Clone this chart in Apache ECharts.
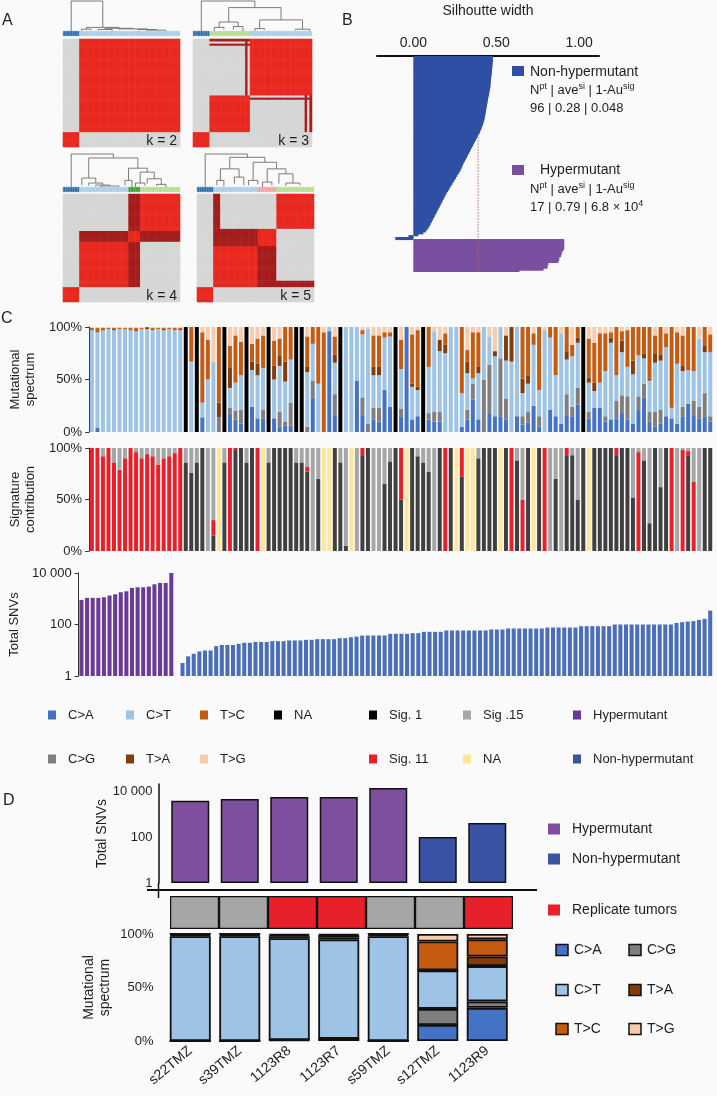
<!DOCTYPE html>
<html><head><meta charset="utf-8">
<script src="https://cdn.jsdelivr.net/npm/echarts@6.0.0/dist/echarts.min.js"></script>
<style>html,body{margin:0;padding:0;background:#fafafa;}#chart{width:717px;height:1096px;}</style>
</head><body><div id="chart"></div>
<script>
// ================= DATA =================
// ---- Panel A: consensus clustering, 50 ordered samples per k ----
const k2Sizes = [7, 43];
const k3Sizes = [7, 17, 26];
const k4Sizes = [7, 21, 5, 17];
const k5Sizes = [7, 19, 8, 16];
const k2Colors = ['#2e6ea6', '#a9cde6'];
const k3Colors = ['#2e6ea6', '#b5dc8e', '#a9cde6'];
const k4Colors = ['#2e6ea6', '#a9cde6', '#3d9a36', '#b5dc8e'];
const k5Colors = ['#2e6ea6', '#a9cde6', '#f2a29c', '#b5dc8e'];
// ambiguous samples: [from, to, clusters they partly co-cluster with]
const k2Amb = [];
const k3Amb = [[22, 23, [2]], [47, 48, [1]], [49, 50, [1]]];
const k4Amb = [[28, 33, [1, 3]]];
const k5Amb = [[7, 10, [3]], [26, 34, [1]]];
// dendrogram joins: [xLeft, xRight, height, leftChildHeight, rightChildHeight]
const k2Links = [[3.5,17,1,0,0.12],[10,24,0.12,0.06,0.09],[8,12,0.06,0,0.03],[18,30,0.09,0.05,0.07],[15,21,0.05,0.02,0],[24,36,0.07,0.04,0.05],[32,40,0.05,0.02,0.03],[36,44,0.03,0,0.01]];
const k3Links = [[3.5,26,1,0,0.78],[15,37,0.78,0.3,0.37],[11,19,0.3,0.12,0.15],[9,13,0.12,0,0.05],[17,21,0.15,0.05,0],[28,46,0.37,0.08,0.06],[26,30,0.08,0,0.04],[43,49,0.06,0.02,0]];
const k4Links = [[3.5,21.5,1,0,0.88],[11,32,0.88,0.27,0.57],[8,14,0.27,0.05,0.12],[11,17,0.12,0.04,0.06],[14,20,0.06,0.02,0.03],[16,24,0.03,0,0.01],[28,36,0.57,0.2,0.45],[26.5,29.5,0.2,0.05,0],[33,39,0.45,0.12,0.25],[31,35,0.12,0,0.04],[36,42,0.25,0.1,0.08],[40,44,0.08,0.03,0]];
const k5Links = [[3.5,21.5,1,0,0.9],[14,29,0.9,0.55,0.75],[10,18,0.55,0.2,0.3],[8.5,11.5,0.2,0.05,0.02],[16,20,0.3,0.1,0.05],[24,34,0.75,0.2,0.55],[22,26,0.2,0.05,0.08],[30,38,0.55,0.15,0.4],[28,32,0.15,0,0.05],[35,41,0.4,0.1,0.12],[38,44,0.12,0.03,0.05]];
const kLabels = ['k = 2', 'k = 3', 'k = 4', 'k = 5'];

// ---- Panel B: silhouette widths ----
const silNonHyper = [0.48,0.48,0.48,0.478,0.477,0.476,0.475,0.474,0.473,0.472,
 0.47,0.469,0.468,0.467,0.466,0.465,0.463,0.461,0.459,0.457,
 0.455,0.452,0.45,0.448,0.446,0.444,0.442,0.44,0.438,0.436,
 0.434,0.432,0.43,0.427,0.424,0.42,0.416,0.412,0.407,0.402,
 0.397,0.39,0.384,0.378,0.372,0.366,0.36,0.354,0.348,0.342,
 0.336,0.33,0.324,0.318,0.312,0.306,0.30,0.295,0.29,0.285,
 0.278,0.271,0.264,0.257,0.25,0.243,0.236,0.229,0.222,0.215,
 0.208,0.201,0.195,0.189,0.183,0.177,0.171,0.165,0.159,0.153,
 0.147,0.141,0.135,0.129,0.123,0.117,0.111,0.105,0.099,0.092,
 0.085,0.075,0.06,0.03,-0.03,-0.11];
const silHyper = [0.91,0.91,0.91,0.91,0.91,0.905,0.895,0.895,0.89,0.88,0.88,0.875,0.815,0.81,0.81,0.785,0.64];
const silAvgLine = 0.39;
const silTicks = [0, 0.5, 1];

// ---- Panel C: mutational spectrum [C>A, C>G, C>T, T>A, T>C, T>G]; null = NA ----
const specKeys = ['C>A', 'C>G', 'C>T', 'T>A', 'T>C', 'T>G'];
const specHyper = [[0,0,97,0,2,1],[4,0,91,1,3,1],[0,0,97,1,1,1],[0,0,98,0,1,1],[0,0,97,1,1,1],[0,0,98,0,1,1],[0,0,98,0,1,1],[0,0,97,0,2,1],[0,0,96,1,2,1],[0,0,98,0,1,1],[0,0,98,1,1,0],[0,0,97,0,2,1],[0,0,98,0,1,1],[0,0,97,1,1,1],[0,0,98,0,1,1],[0,0,97,0,2,1],[0,0,97,1,1,1]];
const specNonHyper = [null,[0,0,67,0,33,0],null,[14,0,14,0,67,5],[0,0,50,0,38,12],[0,0,67,0,0,33],[0,14,0,14,72,0],null,[17,6,19,19,21,18],[12,8,27,0,45,8],
 [8,13,33,0,32,14],null,[24,0,35,8,17,16],[13,0,41,11,24,11],[13,8,40,0,31,8],null,[13,0,37,13,24,13],[5,14,44,10,16,11],[6,4,38,19,33,0],[6,22,41,0,31,0],
 null,null,[0,5,52,5,29,9],[33,16,35,0,16,0],[0,0,46,0,54,0],[0,0,0,0,95,5],[96,0,4,0,0,0],[16,20,30,8,17,9],null,[0,0,100,0,0,0],
 [0,0,100,0,0,0],[49,0,51,0,0,0],[16,17,60,0,4,3],[0,8,90,0,0,2],
 [12,11,31,8,30,8],[10,13,31,8,30,8],[40,0,50,0,5,5],[24,0,67,0,4,5],null,[15,7,38,0,28,12],[100,0,0,0,0,0],[12,0,31,3,47,7],[15,0,25,3,54,3],null,
 [12,6,44,0,38,0],[10,9,77,0,0,4],[10,9,58,11,0,12],[0,0,75,8,11,6],[0,0,100,0,0,0],[0,0,100,0,0,0],[5,0,32,0,63,0],[12,9,35,11,11,22],[31,15,5,0,44,5],[12,0,44,6,33,5],
 [0,50,50,0,0,0],[18,46,27,0,0,9],[15,0,57,5,0,23],[15,55,30,0,0,0],[12,20,36,24,0,8],[0,0,67,33,0,0],[15,0,85,0,0,0],[7,8,22,14,49,0],[9,10,27,8,46,0],[25,0,58,0,11,6],
 [5,10,25,0,60,0],[0,0,97,0,0,3],[21,0,69,0,10,0],[15,0,39,0,46,0],[8,0,86,0,0,6],[16,20,33,8,23,0],[15,9,48,0,11,17],[26,16,43,5,10,0],null,[13,6,28,5,37,11],
 [23,0,16,8,38,15],[23,0,24,0,47,6],[10,5,43,0,36,6],[12,0,73,5,5,5],[13,17,24,0,46,0],[18,17,41,11,9,4],[12,22,28,0,35,3],[8,0,47,13,32,0],[21,13,39,0,27,0],[33,13,24,5,25,0],
 [10,9,30,2,49,0],[5,14,47,9,17,8],[8,13,47,6,26,0],[15,0,66,0,13,6],[13,0,10,0,77,0],[8,0,57,0,30,5],[15,9,34,5,29,8],[27,0,32,0,41,0],[16,14,28,0,42,0],[13,11,65,0,0,11],
 [15,22,39,6,18,0],[10,5,61,0,17,7]];
// signature contribution [Sig.1, Sig.11, Sig.15]; null = NA
const sigKeys = ['Sig. 1', 'Sig. 11', 'Sig .15'];
const sig11Hyper = [100,100,92,100,86,79,90,100,96,90,94,92,84,90,92,95,100];
const sigNonHyper = [[86,0,14],[76,0,24],[86,0,14],[100,0,0],[0,0,100],[15,15,70],null,[86,0,14],[0,100,0],[98,2,0],
 [100,0,0],[86,0,14],[100,0,0],[0,100,0],null,[86,0,14],[100,0,0],[100,0,0],[100,0,0],[100,0,0],
 [86,0,14],[86,0,14],[77,5,18],[0,0,100],[70,0,30],null,null,[100,0,0],[86,0,14],[5,0,95],
 null,[0,0,100],[93,7,0],[100,0,0],
 [0,0,100],[0,0,100],[65,0,35],[87,0,13],[100,0,0],[50,50,0],null,[100,0,0],[92,0,8],[86,0,14],
 [77,0,23],[0,0,100],[100,0,0],[0,100,0],[100,0,0],null,[72,28,0],null,null,[90,0,10],
 [100,0,0],[100,0,0],[100,0,0],null,[100,0,0],[0,100,0],[88,0,12],[0,50,50],[100,0,0],null,
 [100,0,0],[0,100,0],[0,0,100],[70,0,30],[0,0,100],[93,7,0],[93,0,7],[50,0,50],[100,0,0],null,
 [100,0,0],[100,0,0],[100,0,0],[100,0,0],[93,7,0],[100,0,0],[100,0,0],[52,0,48],[0,96,4],[88,0,12],
 [27,0,73],[100,0,0],[62,0,38],[100,0,0],[0,100,0],[0,0,100],[0,98,2],[93,4,3],[0,67,33],[0,0,100],
 [100,0,0],[100,0,0]];
// total SNVs
const snvHyper = [900,1080,1080,1080,1140,1330,1490,1790,1950,2630,2790,2790,2960,3640,4100,4100,10000];
const snvNonHyper = [1,3.2,5.8,7.3,9,9.8,9.8,14.5,16,16,16,17.8,19.5,19.5,21,21,21,22.6,22.6,22.6,24,24,24,25.4,25.4,27,27,27,27,29.5,29.5,32,34,37,
 37.5,37.5,37.5,37.5,43.5,43.5,43.5,43.5,46,46,52,52,52,52,58.6,58.6,58.6,58.6,58.6,58.6,58.6,58.6,64,64,64,
 70,70,70,70,70,70,70,76.5,76.5,76.5,76.5,76.5,76.5,86,86,86,86,86,86,
 100,100,100,100,100,100,100,100,100,100,100,115,123,130,135,150,166,348];
const snvTicks = ['1', '100', '10 000'];

// ---- Panel D ----
const dSamples = ['s22TMZ', 's39TMZ', '1123R8', '1123R7', 's59TMZ', 's12TMZ', '1123R9'];
const dHyper = [true, true, true, true, true, false, false];
const dSnv = [3700, 4500, 5500, 5500, 13500, 100, 400];
const dReplicate = [false, false, true, true, false, false, true];
const dSpectrum = [[0,0,98,1,1,0],[0,0,98,1,1,0],[1,0,95,2,1,1],[2,0,93,2,2,1],[0,0,98,1,1,0],[15,15,36,0,27,7],[31,6,33,9,16,5]];

// ================= STYLE =================
const FONT = 'Liberation Sans, Arial, Helvetica, sans-serif';
const TXT = '#1e1e1e';
const specColors = ['#4472c4', '#7f7f7f', '#9dc3e6', '#843c0c', '#c55a11', '#f8cbad'];
const naColor = '#000000';
const sigColors = ['#404040', '#e8202a', '#a6a6a6'];
const sigNaColor = '#ffe699';
const hyperColor = '#6b3a97', nonHyperColor = '#4a6fb8';
const silBlue = '#2f4fa4', silPurple = '#7b4f9f';
const dHyperColor = '#7d4f9e', dNonHyperColor = '#3a53a4';

const grids = [], xAxis = [], yAxis = [], series = [], graphic = [];
function addGrid(box, xa, ya) {
  const i = grids.length;
  grids.push(box); xa.gridIndex = i; ya.gridIndex = i; xAxis.push(xa); yAxis.push(ya);
  return i;
}
const heatIdx = [];

// ================= PANEL A =================
function consensusPanel(p) {
  const labels = [];
  p.sizes.forEach((s, c) => { for (let n = 0; n < s; n++) labels.push(c); });
  const N = labels.length;
  const ambOf = labels.map(() => []);
  p.amb.forEach(([a, b, cl]) => { for (let n = a; n < b; n++) ambOf[n] = cl; });
  const idx = labels.map((_, i) => i);
  const gd = addGrid({left: p.left, top: p.top, width: p.width, height: p.dendroH},
    {type: 'value', min: 0, max: N, show: false}, {type: 'value', min: 0, max: 1, show: false});
  series.push({type: 'custom', xAxisIndex: gd, yAxisIndex: gd, silent: true, clip: false,
    encode: {x: [0, 1], y: [2, 3, 4]}, data: p.links,
    renderItem: (params, api) => {
      const xl = api.value(0), xr = api.value(1), h = api.value(2), hl = api.value(3), hr = api.value(4);
      return {type: 'polyline', shape: {points: [api.coord([xl, hl]), api.coord([xl, h]), api.coord([xr, h]), api.coord([xr, hr])]},
        style: {stroke: '#6d6d6d', fill: null, lineWidth: 0.9}};
    }});
  const gb = addGrid({left: p.left, top: p.top + p.dendroH, width: p.width, height: p.barH},
    {type: 'category', data: idx, show: false}, {type: 'value', min: 0, max: 1, show: false});
  series.push({type: 'bar', xAxisIndex: gb, yAxisIndex: gb, silent: true, barCategoryGap: '0%',
    data: labels.map(c => ({value: 1, itemStyle: {color: p.colors[c], borderColor: p.colors[c], borderWidth: 0.4}}))});
  const gh = addGrid({left: p.left, top: p.hTop, width: p.width, height: p.hH},
    {type: 'category', data: idx, show: false}, {type: 'category', data: idx, show: false});
  const cells = [];
  for (let i = 0; i < N; i++) for (let j = 0; j < N; j++) {
    let v = 0;
    if (labels[i] === labels[j]) v = 1;
    else if (ambOf[i].includes(labels[j]) || ambOf[j].includes(labels[i])) v = 0.55;
    cells.push([j, i, v]);
  }
  series.push({type: 'heatmap', xAxisIndex: gh, yAxisIndex: gh, silent: true, data: cells, progressive: 0});
  heatIdx.push(series.length - 1);
  graphic.push({type: 'text', x: p.left + p.width - 3, y: p.hTop + p.hH - 5.5, z: 50,
    style: {text: p.label, fill: TXT, font: '14px ' + FONT, textAlign: 'right', textVerticalAlign: 'middle'}});
}
consensusPanel({left: 63, top: 1, width: 117, dendroH: 30, barH: 5, hTop: 39, hH: 108, sizes: k2Sizes, colors: k2Colors, amb: k2Amb, links: k2Links, label: kLabels[0]});
consensusPanel({left: 193, top: 1, width: 119, dendroH: 30, barH: 5, hTop: 39, hH: 108, sizes: k3Sizes, colors: k3Colors, amb: k3Amb, links: k3Links, label: kLabels[1]});
consensusPanel({left: 63, top: 154, width: 117, dendroH: 33, barH: 5, hTop: 194, hH: 108, sizes: k4Sizes, colors: k4Colors, amb: k4Amb, links: k4Links, label: kLabels[2]});
consensusPanel({left: 197, top: 154, width: 117, dendroH: 33, barH: 5, hTop: 194, hH: 108, sizes: k5Sizes, colors: k5Colors, amb: k5Amb, links: k5Links, label: kLabels[3]});

// ================= PANEL B =================
const silRows = silNonHyper.length + silHyper.length;
const gB = addGrid({left: 377, top: 56, width: 222, height: 216},
  {type: 'value', position: 'top', min: -0.22, max: 1.12, name: 'Silhoutte width', nameLocation: 'middle', nameGap: 38,
   nameTextStyle: {fontSize: 14, color: TXT, fontFamily: FONT},
   axisLine: {show: true, onZero: false, lineStyle: {color: '#111', width: 2}}, axisTick: {show: false}, splitLine: {show: false},
   axisLabel: {customValues: silTicks, formatter: v => v.toFixed(2), fontSize: 14, color: TXT, margin: 6, fontFamily: FONT}},
  {type: 'category', inverse: true, show: false, data: Array.from({length: silRows}, (_, i) => i)});
series.push({type: 'bar', stack: 'sil', xAxisIndex: gB, yAxisIndex: gB, barWidth: '160%', silent: true,
  itemStyle: {color: silBlue},
  data: silNonHyper.concat(silHyper.map(() => '-'))});
series.push({type: 'bar', stack: 'sil', xAxisIndex: gB, yAxisIndex: gB, barWidth: '160%', silent: true,
  itemStyle: {color: silPurple},
  data: silNonHyper.map(() => '-').concat(silHyper)});
const avgStart = silNonHyper.findIndex(v => v < silAvgLine);
series.push({type: 'line', xAxisIndex: gB, yAxisIndex: gB, silent: true, symbol: 'none', z: 10,
  lineStyle: {color: '#b06a66', width: 1, type: [1.5, 1.5]}, data: [[silAvgLine, avgStart], [silAvgLine, silRows - 1]]});
function supText(x, y, parts) {
  graphic.push({type: 'text', x, y, style: {text: parts, textVerticalAlign: 'middle',
    rich: {n: {fontSize: 13, fontFamily: FONT, fill: TXT}, s: {fontSize: 9, fontFamily: FONT, fill: TXT, padding: [0, 0, 7, 0]}}}});
}
graphic.push({type: 'rect', shape: {x: 512, y: 66, width: 12, height: 10}, style: {fill: silBlue}});
graphic.push({type: 'text', x: 530, y: 72, style: {text: 'Non-hypermutant', fill: TXT, font: '14px ' + FONT, textVerticalAlign: 'middle'}});
supText(530, 90, '{n|N}{s|pt}{n| | ave}{s|si}{n| | 1-Au}{s|sig}');
supText(530, 108, '{n|96 | 0.28 | 0.048}');
graphic.push({type: 'rect', shape: {x: 512, y: 165, width: 12, height: 10}, style: {fill: silPurple}});
graphic.push({type: 'text', x: 540, y: 170, style: {text: 'Hypermutant', fill: TXT, font: '14px ' + FONT, textVerticalAlign: 'middle'}});
supText(530, 189, '{n|N}{s|pt}{n| | ave}{s|si}{n| | 1-Au}{s|sig}');
supText(530, 207, '{n|17 | 0.79 | 6.8 × 10}{s|4}');

// ================= PANEL C =================
const allSpec = specHyper.concat(specNonHyper);
const allSig = sig11Hyper.map(v => [0, v, 100 - v]).concat(sigNonHyper);
const allSnv = snvHyper.concat(snvNonHyper);
const isHyper = snvHyper.map(() => true).concat(snvNonHyper.map(() => false));
const cats = allSnv.map((_, i) => i);
function pctAxis(name, gap) {
  return {type: 'value', min: 0, max: 100, interval: 50,
    axisLine: {show: true, lineStyle: {color: '#333', width: 1}}, axisTick: {show: true, length: 4, lineStyle: {color: '#333'}},
    splitLine: {show: false}, axisLabel: {formatter: '{value}%', fontSize: 13, color: TXT, margin: 7, fontFamily: FONT},
    name, nameLocation: 'middle', nameRotate: 90, nameGap: gap, nameTextStyle: {fontSize: 13, color: TXT, lineHeight: 15, fontFamily: FONT}};
}
function logAxis(name, gap, max, extra) {
  return Object.assign({type: 'log', logBase: 100, min: 1, max,
    axisLine: {show: true, lineStyle: {color: '#333', width: 1}}, axisTick: {show: true, length: 4, lineStyle: {color: '#333'}},
    splitLine: {show: false},
    axisLabel: {formatter: v => snvTicks[Math.round(Math.log(v) / Math.log(100))], fontSize: 13, color: TXT, margin: 7, fontFamily: FONT},
    name, nameLocation: 'middle', nameRotate: 90, nameGap: gap, nameTextStyle: {fontSize: 13, color: TXT, fontFamily: FONT}}, extra || {});
}
const gC1 = addGrid({left: 78, top: 327, width: 635, height: 105}, {type: 'category', data: cats, show: false}, pctAxis('Mutational\nspectrum', 44));
specKeys.forEach((k, d) => series.push({type: 'bar', stack: 'spec', xAxisIndex: gC1, yAxisIndex: gC1, silent: true, barCategoryGap: '28%',
  itemStyle: {color: specColors[d]}, data: allSpec.map(r => r ? r[d] : 0)}));
series.push({type: 'bar', stack: 'spec', xAxisIndex: gC1, yAxisIndex: gC1, silent: true, barCategoryGap: '28%',
  itemStyle: {color: naColor}, data: allSpec.map(r => r ? 0 : 100)});
const gC2 = addGrid({left: 78, top: 448, width: 635, height: 103}, {type: 'category', data: cats, show: false}, pctAxis('Signature\ncontribution', 44));
sigKeys.forEach((k, d) => series.push({type: 'bar', stack: 'sig', xAxisIndex: gC2, yAxisIndex: gC2, silent: true, barCategoryGap: '28%',
  itemStyle: {color: sigColors[d]}, data: allSig.map(r => r ? r[d] : 0)}));
series.push({type: 'bar', stack: 'sig', xAxisIndex: gC2, yAxisIndex: gC2, silent: true, barCategoryGap: '28%',
  itemStyle: {color: sigNaColor}, data: allSig.map(r => r ? 0 : 100)});
const gC3 = addGrid({left: 78, top: 573, width: 635, height: 103}, {type: 'category', data: cats, show: false}, logAxis('Total SNVs', 52, 10000));
series.push({type: 'bar', xAxisIndex: gC3, yAxisIndex: gC3, silent: true, barCategoryGap: '28%',
  data: allSnv.map((v, i) => ({value: v, itemStyle: {color: isHyper[i] ? hyperColor : nonHyperColor}}))});

// legend C
function legItem(x, y, color, text, size, font, border) {
  graphic.push({type: 'rect', shape: {x: x, y: y - size[1] / 2, width: size[0], height: size[1]},
    style: {fill: color, stroke: border ? '#111' : null, lineWidth: border ? 1.5 : 0}});
  graphic.push({type: 'text', x: x + size[0] + (border ? 6 : 12), y, style: {text, fill: TXT, font, textVerticalAlign: 'middle'}});
}
const fC = '13px ' + FONT;
legItem(48, 715, specColors[0], 'C>A', [8, 9], fC);
legItem(126, 715, specColors[2], 'C>T', [8, 9], fC);
legItem(200, 715, specColors[4], 'T>C', [8, 9], fC);
legItem(274, 715, naColor, 'NA', [8, 9], fC);
legItem(48, 759, specColors[1], 'C>G', [8, 9], fC);
legItem(126, 759, specColors[3], 'T>A', [8, 9], fC);
legItem(200, 759, specColors[5], 'T>G', [8, 9], fC);
legItem(369, 715, '#000', sigKeys[0], [8, 9], fC);
legItem(463, 715, sigColors[2], sigKeys[2], [8, 9], fC);
legItem(369, 759, sigColors[1], sigKeys[1], [8, 9], fC);
legItem(463, 759, sigNaColor, 'NA', [8, 9], fC);
legItem(573, 715, hyperColor, 'Hypermutant', [8, 9], fC);
legItem(573, 759, '#3a52a4', 'Non-hypermutant', [8, 9], fC);

// ================= PANEL D =================
const gD1 = addGrid({left: 165.5, top: 784, width: 346.5, height: 99}, {type: 'category', data: dSamples, show: false},
  logAxis('Total SNVs', 46, 20000, {offset: 7, axisTick: {show: false}, axisLine: {show: true, lineStyle: {color: '#111', width: 1.5}},
    axisLabel: {formatter: v => snvTicks[Math.round(Math.log(v) / Math.log(100))], fontSize: 13, color: TXT, margin: 6, fontFamily: FONT},
    nameTextStyle: {fontSize: 14, color: TXT, fontFamily: FONT}}));
series.push({type: 'bar', xAxisIndex: gD1, yAxisIndex: gD1, silent: true, barWidth: 38,
  data: dSnv.map((v, i) => ({value: v, itemStyle: {color: dHyper[i] ? dHyperColor : dNonHyperColor, borderColor: '#111', borderWidth: 1.5}}))});
graphic.push({type: 'line', shape: {x1: 147, y1: 890, x2: 537, y2: 890}, style: {stroke: '#111', lineWidth: 2}});
graphic.push({type: 'line', shape: {x1: 158.5, y1: 883, x2: 158.5, y2: 898}, style: {stroke: '#111', lineWidth: 1.5}});
const gD2 = addGrid({left: 170, top: 896, width: 343, height: 33}, {type: 'category', data: dSamples, show: false}, {type: 'value', min: 0, max: 1, show: false});
series.push({type: 'bar', xAxisIndex: gD2, yAxisIndex: gD2, silent: true, barCategoryGap: '0%',
  data: dReplicate.map(r => ({value: 1, itemStyle: {color: r ? '#e8202a' : '#a6a6a6', borderColor: '#111', borderWidth: 1.2}}))});
const gD3 = addGrid({left: 165.5, top: 934, width: 346.5, height: 107},
  {type: 'category', data: dSamples, axisLine: {show: false}, axisTick: {show: false},
   axisLabel: {interval: 0, rotate: 40, fontSize: 14, color: TXT, margin: 8, fontFamily: FONT}},
  {type: 'value', min: 0, max: 100, interval: 50, axisLine: {show: false}, axisTick: {show: false}, splitLine: {show: false},
   axisLabel: {formatter: '{value}%', fontSize: 13, color: TXT, margin: 12, fontFamily: FONT},
   name: 'Mutational\nspectrum', nameLocation: 'middle', nameRotate: 90, nameGap: 52, nameTextStyle: {fontSize: 14, color: TXT, lineHeight: 16, fontFamily: FONT}});
specKeys.forEach((k, d) => series.push({type: 'bar', stack: 'dspec', xAxisIndex: gD3, yAxisIndex: gD3, silent: true, barWidth: 41,
  itemStyle: {color: specColors[d], borderColor: '#111', borderWidth: 1.8}, data: dSpectrum.map(r => r[d])}));

// legend D
const fD = '14px ' + FONT;
legItem(548, 829, dHyperColor, 'Hypermutant', [12, 11], fD);
legItem(548, 859, dNonHyperColor, 'Non-hypermutant', [12, 11], fD);
legItem(548, 910, '#e8202a', 'Replicate tumors', [12, 11], fD);
legItem(556, 950, specColors[0], 'C>A', [12, 11], fD, true);
legItem(629, 950, specColors[1], 'C>G', [12, 11], fD, true);
legItem(556, 990, specColors[2], 'C>T', [12, 11], fD, true);
legItem(629, 990, specColors[3], 'T>A', [12, 11], fD, true);
legItem(556, 1029, specColors[4], 'T>C', [12, 11], fD, true);
legItem(629, 1029, specColors[5], 'T>G', [12, 11], fD, true);

// panel letters
[['A', 2, 21], ['B', 342, 21], ['C', 1, 319], ['D', 3, 801]].forEach(([t, x, y]) =>
  graphic.push({type: 'text', x, y, style: {text: t, fill: TXT, font: '16px ' + FONT, textVerticalAlign: 'middle'}}));

// ================= RENDER =================
const chart = echarts.init(document.getElementById('chart'), null, {renderer: 'canvas', width: 717, height: 1096});
chart.setOption({
  backgroundColor: '#fafafa',
  animation: false,
  textStyle: {fontFamily: FONT},
  grid: grids, xAxis, yAxis, series,
  visualMap: {type: 'piecewise', show: false, seriesIndex: heatIdx, dimension: 2,
    pieces: [{min: -0.1, max: 0.2, color: '#d6d6d6'}, {min: 0.2, max: 0.8, color: '#a51c1c'}, {min: 0.8, max: 1.1, color: '#e8281f'}]},
  graphic: graphic
});
</script></body></html>
